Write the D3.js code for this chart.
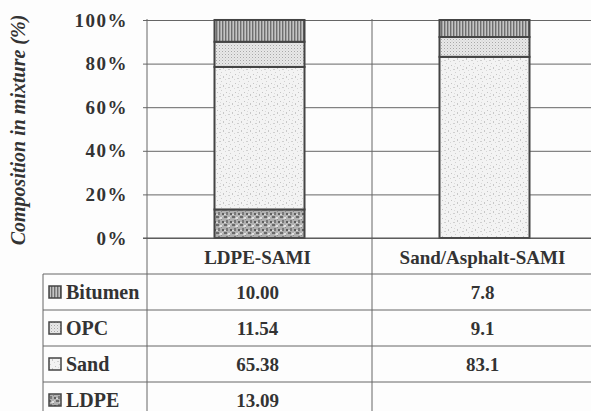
<!DOCTYPE html>
<html><head><meta charset="utf-8">
<script src="https://cdn.jsdelivr.net/npm/d3@7/dist/d3.min.js"></script>
<style>html,body{margin:0;padding:0;background:#fdfdfd;}svg{display:block;}
svg text{font-family:"Liberation Serif" !important;}</style>
</head><body>
<svg id="c" width="591" height="411"></svg>
<script>
const categories = ["LDPE-SAMI", "Sand/Asphalt-SAMI"];
const seriesNames = ["Bitumen", "OPC", "Sand", "LDPE"];
const bitumen = [10.00, 7.8];
const opc = [11.54, 9.1];
const sand = [65.38, 83.1];
const ldpe = [13.09, 0];
const tableLabels = [["10.00", "7.8"], ["11.54", "9.1"], ["65.38", "83.1"], ["13.09", ""]];
const yTicks = [0, 20, 40, 60, 80, 100];
const yTitle = "Composition in mixture (%)";

const seriesValues = { Bitumen: bitumen, OPC: opc, Sand: sand, LDPE: ldpe };
const rows = categories.map((c, i) => {
  const r = { cat: c };
  seriesNames.forEach(s => r[s] = seriesValues[s][i]);
  return r;
});
const stackOrder = ["LDPE", "Sand", "OPC", "Bitumen"];
const stacked = d3.stack().keys(stackOrder)(rows);

const svg = d3.select("#c");
const font = '"Liberation Serif"';
const ink = "#333";
const gridCol = "#666";
function serif(sel) {
  return sel.attr("font-family", font).style("font-family", font, "important");
}

const defs = svg.append("defs");
function pat(id, w, h, bg, marks) {
  const p = defs.append("pattern").attr("id", id).attr("patternUnits", "userSpaceOnUse")
    .attr("width", w).attr("height", h);
  p.append("rect").attr("width", w).attr("height", h).attr("fill", bg);
  marks.forEach(m => p.append("rect").attr("x", m[0]).attr("y", m[1]).attr("width", m[2]).attr("height", m[3]).attr("fill", m[4]));
}
pat("p-Bitumen", 3, 3, "#c4c4c4", [[0, 0, 1.4, 3, "#6e6e6e"]]);
pat("p-OPC", 3, 3, "#e8e8e8", [[0, 0, 1, 1, "#a8a8a8"], [1.5, 1.5, 1, 1, "#c8c8c8"]]);
pat("p-Sand", 9, 9, "#f3f3f3", [[1, 2, 1, 1, "#c4c4c4"], [5, 0, 1, 1, "#d0d0d0"], [3, 6, 2, 1, "#cfcfcf"], [7, 4, 1, 2, "#c8c8c8"], [0, 7, 1, 1, "#d6d6d6"], [4, 3, 1, 1, "#dadada"]]);
pat("p-LDPE", 8, 8, "#b0b0b0", [[0, 0, 3, 2, "#6a6a6a"], [4, 1, 2, 2, "#e0e0e0"], [2, 4, 2, 3, "#7a7a7a"], [6, 5, 2, 2, "#5e5e5e"], [0, 6, 2, 1, "#dcdcdc"], [5, 3, 1, 1, "#8a8a8a"], [3, 2, 1, 1, "#d4d4d4"], [6, 0, 1, 1, "#cfcfcf"]]);

const plotLeft = 147, plotRight = 597, yTop = 20, yBot = 238;
const x = d3.scaleBand().domain(categories).range([plotLeft, plotRight]).padding(0);
const y = d3.scaleLinear().domain([0, 100]).range([yBot, yTop]);
const tableTop = 274, rowH = 36;
const yRow = d3.scaleBand().domain(seriesNames).range([tableTop, tableTop + rowH * seriesNames.length]).padding(0);

const yAxis = d3.axisLeft(y).tickValues(yTicks).tickSize(-(plotRight - plotLeft)).tickPadding(19).tickFormat(d => d + "%");
const ga = svg.append("g").attr("transform", `translate(${plotLeft},0)`).call(yAxis);
ga.attr("font-family", font);
ga.select(".domain").remove();
ga.selectAll(".tick line").attr("stroke", gridCol).attr("stroke-width", 1).attr("x1", -4);
serif(ga.selectAll(".tick text")).attr("fill", ink).attr("font-weight", "bold")
  .attr("font-size", 19).attr("letter-spacing", 1.5).attr("x", -19);

svg.append("g").selectAll("line").data([plotLeft, x(categories[1])]).join("line")
  .attr("x1", d => d).attr("x2", d => d).attr("y1", yTop - 1).attr("y2", 411)
  .attr("stroke", gridCol).attr("stroke-width", 1);

const rowEdges = seriesNames.map(s => yRow(s));
svg.append("g").selectAll("line").data(rowEdges).join("line")
  .attr("x1", 43).attr("x2", plotRight).attr("y1", d => d).attr("y2", d => d)
  .attr("stroke", gridCol).attr("stroke-width", 1);
svg.append("line").attr("x1", 43).attr("x2", 43).attr("y1", tableTop).attr("y2", 411)
  .attr("stroke", gridCol).attr("stroke-width", 1);

const barW = x.bandwidth() * 0.4;
svg.append("g").selectAll("g").data(stacked).join("g")
  .attr("fill", d => `url(#p-${d.key})`)
  .selectAll("rect").data(d => d.filter(e => e[1] - e[0] > 0)).join("rect")
  .attr("x", d => x(d.data.cat) + (x.bandwidth() - barW) / 2)
  .attr("width", barW)
  .attr("y", d => y(d[1]))
  .attr("height", d => y(d[0]) - y(d[1]))
  .attr("stroke", "#444").attr("stroke-width", 2);

svg.append("line").attr("x1", plotLeft - 4).attr("x2", plotRight).attr("y1", yBot).attr("y2", yBot)
  .attr("stroke", "#555").attr("stroke-width", 1.2);

serif(svg.append("g").selectAll("text").data(categories).join("text"))
  .attr("x", d => x(d) + x.bandwidth() / 2 - 2).attr("y", (yBot + tableTop) / 2 + 1)
  .attr("dy", "0.35em").attr("text-anchor", "middle")
  .attr("fill", ink).attr("font-weight", "bold").attr("font-size", 19)
  .text(d => d);

const lg = svg.append("g").selectAll("g").data(seriesNames).join("g")
  .attr("transform", d => `translate(0,${yRow(d) + rowH / 2})`);
lg.append("rect").attr("x", 49).attr("y", -6).attr("width", 12).attr("height", 12)
  .attr("fill", d => `url(#p-${d})`).attr("stroke", "#444").attr("stroke-width", 1.5);
serif(lg.append("text")).attr("x", 66).attr("dy", "0.35em")
  .attr("fill", ink).attr("font-weight", "bold").attr("font-size", 20)
  .text(d => d);

seriesNames.forEach((s, si) => {
  serif(svg.append("g").selectAll("text").data(categories).join("text"))
    .attr("x", c => x(c) + x.bandwidth() / 2 - 2)
    .attr("y", yRow(s) + rowH / 2)
    .attr("dy", "0.35em").attr("text-anchor", "middle")
    .attr("fill", ink).attr("font-weight", "bold").attr("font-size", 19)
    .text((c, ci) => tableLabels[si][ci]);
});

serif(svg.append("text")).attr("transform", "translate(25,130) rotate(-90)")
  .attr("text-anchor", "middle")
  .attr("fill", ink).attr("font-weight", "bold").attr("font-style", "italic")
  .attr("font-size", 20).text(yTitle);
</script>
</body></html>
